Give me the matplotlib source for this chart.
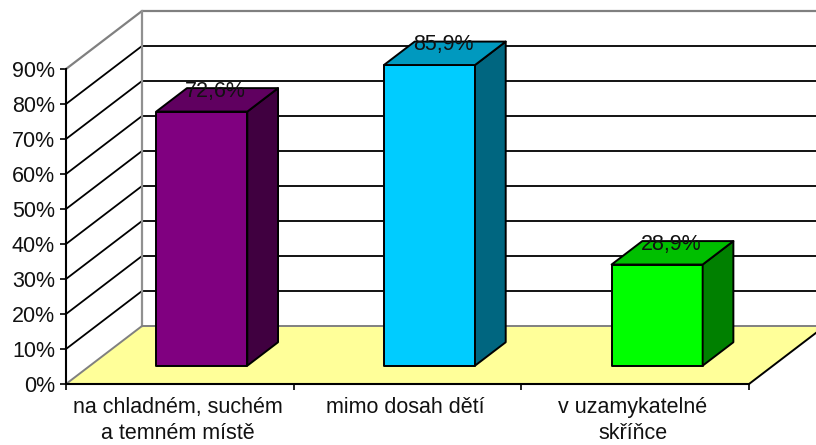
import numpy as np
import matplotlib
matplotlib.use('Agg')
import matplotlib.pyplot as plt
from matplotlib.patches import Polygon

plt.rcParams['font.family'] = ['Liberation Sans', 'DejaVu Sans']

categories = ['na chladném, suchém\na temném místě', 'mimo dosah dětí', 'v uzamykatelné\nskříňce']
values = [72.6, 85.9, 28.9]
value_labels = ['72,6%', '85,9%', '28,9%']
front_colors = ['#800080', '#00CCFF', '#00FF00']
top_colors = ['#600060', '#0099BF', '#00BF00']
side_colors = ['#400040', '#006680', '#008000']
y_ticks = list(range(0, 100, 10))

# oblique projection: how far the full depth shifts a point, in data units
depth_x = 76 / 227.67
depth_y = 58 / 3.5
bar_width = 0.4
bar_d0 = 0.316
bar_d1 = 0.72
text_color = '#111111'


def proj(x, y, d):
    return (x + d * depth_x, y + d * depth_y)


fig = plt.figure(figsize=(8.16, 4.45), dpi=100)
ax = fig.add_axes([66 / 816, (445 - 384) / 445, 683 / 816, 315 / 445])
ax.set_xlim(0, 3)
ax.set_ylim(0, 90)

# Floor
floor = [proj(0, 0, 0), proj(3, 0, 0), proj(3, 0, 1), proj(0, 0, 1)]
ax.add_patch(Polygon(floor, closed=True, facecolor='#FFFF99', edgecolor='none', clip_on=False, zorder=1))
ax.plot(*zip(proj(3, 0, 0), proj(3, 0, 1)), color='black', lw=1.4, clip_on=False, zorder=2)

# Gridlines on the left and back walls
for t in y_ticks[1:-1]:
    ax.plot(*zip(proj(0, t, 0), proj(0, t, 1), proj(3, t, 1)), color='black', lw=1.3, clip_on=False, zorder=2)

# Gray wall frame
ax.plot(*zip(proj(0, 90, 0), proj(0, 90, 1), proj(3, 90, 1)), color='#808080', lw=1.6, clip_on=False, zorder=2)
ax.plot(*zip(proj(0, 90, 1), proj(0, 0, 1)), color='#909090', lw=1.6, clip_on=False, zorder=2)
ax.plot(*zip(proj(0, 0, 0), proj(0, 0, 1), proj(3, 0, 1)), color='#808080', lw=1.4, clip_on=False, zorder=2)

# Bars
for i, v in enumerate(values):
    c = i + 0.491
    x0, x1 = c - bar_width / 2, c + bar_width / 2
    front = [proj(x0, 0, bar_d0), proj(x1, 0, bar_d0), proj(x1, v, bar_d0), proj(x0, v, bar_d0)]
    side = [proj(x1, 0, bar_d0), proj(x1, 0, bar_d1), proj(x1, v, bar_d1), proj(x1, v, bar_d0)]
    top = [proj(x0, v, bar_d0), proj(x1, v, bar_d0), proj(x1, v, bar_d1), proj(x0, v, bar_d1)]
    for pts, col in zip([front, side, top], [front_colors[i], side_colors[i], top_colors[i]]):
        ax.add_patch(Polygon(pts, closed=True, facecolor=col, edgecolor='black', lw=1.4,
                             joinstyle='round', clip_on=False, zorder=3))
    ax.annotate(value_labels[i], xy=proj(c, v, (bar_d0 + bar_d1) / 2), xytext=(-1, 6),
                textcoords='offset points', ha='center', va='center',
                fontsize=15.5, color=text_color, zorder=4, annotation_clip=False)

# Axes
for s in ['top', 'right']:
    ax.spines[s].set_visible(False)
for s in ['left', 'bottom']:
    ax.spines[s].set_linewidth(1.5)
ax.patch.set_alpha(0)
ax.set_yticks(y_ticks)
ax.set_yticklabels([f'{t}%' for t in y_ticks], fontsize=15.5, color=text_color)
ax.set_xticks([0, 1, 2, 3])
ax.set_xticklabels([])
ax.set_xticks([0.49, 1.49, 2.49], minor=True)
ax.set_xticklabels(categories, minor=True, fontsize=15.5, color=text_color, linespacing=1.3)
ax.tick_params(axis='x', which='major', length=4, width=1.2)
ax.tick_params(axis='x', which='minor', length=0, pad=9.5)
ax.tick_params(axis='y', length=4, width=1.2, pad=4)

fig.savefig('out.png', dpi=100)
